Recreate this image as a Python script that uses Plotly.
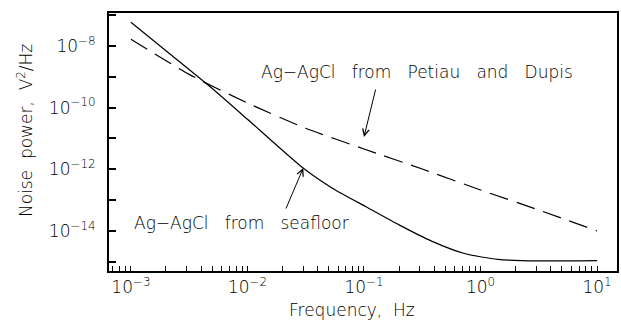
import plotly.graph_objects as go

# Petiau and Dupis (dashed)
petiau_freq = [0.001, 0.00316, 0.01, 0.0316, 0.1, 0.316, 1.0, 3.16, 10.0]
petiau_power = [1.66e-8, 1.2e-9, 1.41e-10, 2.14e-11, 4.57e-12, 1.02e-12, 2.14e-13, 4.79e-14, 1.0e-14]

# seafloor (solid)
seafloor_freq = [0.001, 0.00215, 0.0049, 0.01, 0.030, 0.054, 0.105, 0.20, 0.38, 0.74, 1.41, 3.16, 10.0]
seafloor_power = [5.9e-8, 5.6e-9, 4.4e-10, 4.2e-11, 1.1e-12, 2.4e-13, 6.0e-14, 1.58e-14,
                  4.7e-15, 1.82e-15, 1.2e-15, 1.07e-15, 1.1e-15]

x_decades = [-4, -3, -2, -1, 0, 1]
y_decades = [-15, -14, -13, -12, -11, -10, -9, -8, -7]

FONT = "DejaVu Sans"
FS = 17
W = 300

def sup(e):
    return "10<sup>" + str(e).replace("-", "\u2212") + "</sup>"

xt_vals, xt_text = [], []
for d in x_decades:
    for m in range(1, 10):
        xt_vals.append(m * 10.0 ** d)
        xt_text.append(sup(d) if m == 1 else "")

yt_vals = [10.0 ** d for d in y_decades]
yt_text = [sup(d) if d % 2 == 0 else "" for d in y_decades]

fig = go.Figure()
fig.add_trace(go.Scatter(x=petiau_freq, y=petiau_power, mode="lines",
                         line=dict(color="black", width=1.2, dash="19px,9px", shape="spline", smoothing=0.6),
                         showlegend=False))
fig.add_trace(go.Scatter(x=seafloor_freq, y=seafloor_power, mode="lines",
                         line=dict(color="black", width=1.2, shape="spline", smoothing=0.6),
                         showlegend=False))

fig.update_layout(
    width=621, height=329,
    margin=dict(l=109, r=2, t=13, b=58),
    paper_bgcolor="white", plot_bgcolor="white",
    font=dict(family=FONT, size=FS, color="black", weight=W),
    showlegend=False,
)
fig.update_xaxes(type="log", range=[-3.188, 1.171], showgrid=False, zeroline=False,
                 showline=True, linecolor="black", linewidth=2, mirror=True,
                 ticks="inside", ticklen=5, tickwidth=1, tickcolor="black",
                 tickvals=xt_vals, ticktext=xt_text,
                 tickfont=dict(family=FONT, size=FS, weight=W))
fig.update_yaxes(type="log", range=[-15.298, -6.930], showgrid=False, zeroline=False,
                 showline=True, linecolor="black", linewidth=2, mirror=True,
                 ticks="inside", ticklen=7, tickwidth=1.5, tickcolor="black",
                 tickvals=yt_vals, ticktext=yt_text, ticklabelstandoff=8,
                 tickfont=dict(family=FONT, size=FS, weight=W))

# axis titles
fig.add_annotation(x=0.478, y=-0.151, xref="paper", yref="paper",
                   text="Frequency,\u00a0 Hz", showarrow=False,
                   xanchor="center", yanchor="middle", font=dict(size=FS, weight=W))
fig.add_annotation(x=-0.165, y=0.543, xref="paper", yref="paper", textangle=-90,
                   text="Noise\u00a0 power,\u00a0 V<sup>2</sup>/Hz", showarrow=False,
                   xanchor="center", yanchor="middle", font=dict(size=FS, weight=W))

# curve labels
fig.add_annotation(x=-1.897, y=-8.843, xref="x", yref="y",
                   text="Ag\u2212AgCl\u00a0\u00a0 from\u00a0\u00a0 Petiau\u00a0\u00a0 and\u00a0\u00a0 Dupis",
                   showarrow=False, xanchor="left", yanchor="middle", font=dict(size=FS, weight=W))
fig.add_annotation(x=-2.99, y=-13.741, xref="x", yref="y",
                   text="Ag\u2212AgCl\u00a0\u00a0 from\u00a0\u00a0 seafloor",
                   showarrow=False, xanchor="left", yanchor="middle", font=dict(size=FS, weight=W))
fig.add_annotation(x=-1.0, y=-10.95, ax=-0.897, ay=-9.362, xref="x", yref="y", axref="x", ayref="y",
                   text="", showarrow=True, arrowhead=5, arrowsize=1.3, arrowwidth=1, arrowcolor="black", standoff=0)
fig.add_annotation(x=-1.521, y=-11.957, ax=-1.675, ay=-13.32, xref="x", yref="y", axref="x", ayref="y",
                   text="", showarrow=True, arrowhead=5, arrowsize=1.3, arrowwidth=1, arrowcolor="black", standoff=0)

fig.write_html("out.html")
